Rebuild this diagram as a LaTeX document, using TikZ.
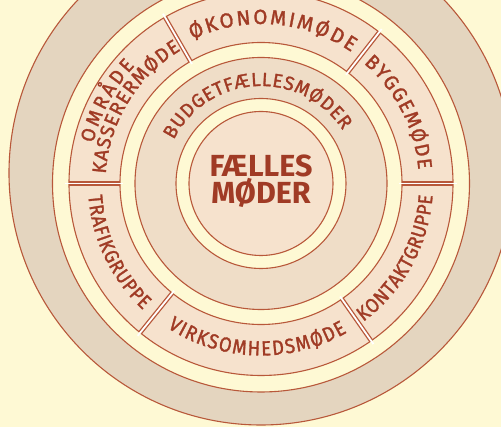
\documentclass[tikz,border=0pt]{standalone}
\usepackage{fontspec}
\setmainfont{Fira Sans}
\newfontfamily\ringfont[FakeBold=1.5]{Fira Sans}
\newfontfamily\ringfontc[FakeBold=1.5, FakeStretch=0.9]{Fira Sans}
\usetikzlibrary{decorations.text}
\definecolor{bg}{HTML}{FEF9D4}
\definecolor{ringgray}{HTML}{E4D5BF}
\definecolor{peach}{HTML}{F6E2CD}
\definecolor{budget}{HTML}{EFDDC7}
\definecolor{lin}{HTML}{B8583A}
\definecolor{txt}{HTML}{A03B25}
\begin{document}
\begin{tikzpicture}[x=1pt,y=1pt,
  ring/.style={draw=lin, line width=1.1pt},
  arctext/.style={decorate, decoration={text along path, text align={fit to path}, text color=txt, text={#1}}},
]
\useasboundingbox (-261,-243.5) rectangle (240,183.5);
\begin{scope}
\clip (-261,-243.5) rectangle (240,183.5);
\fill[bg] (-261,-243.5) rectangle (240,183.5);
% outer grey ring
\draw[ring, fill=ringgray] (0,10.5) circle[radius=252pt];
\draw[ring, fill=bg] (0,0) circle[radius=208.5pt];
% segment ring
\draw[ring, fill=peach] (0,0) circle[radius=192pt];
\draw[ring, fill=bg] (0,0) circle[radius=141pt];
% budget ring
\draw[ring, fill=budget] (0,0) circle[radius=126pt];
\draw[ring, fill=bg] (0,0) circle[radius=85pt];
% centre disc
\draw[ring, fill=peach] (0,0) circle[radius=72pt];
% dividers
\foreach \a in {0,52,120,180,231,305}{
  \draw[lin, line width=4.4pt] (\a:141pt) -- (\a:192pt);
  \draw[white, line width=1.8pt] (\a:138pt) -- (\a:196pt);
}
% centre text
\node[text=txt, align=center, font=\bfseries\fontsize{30.5}{25.5}\selectfont, inner sep=0pt] (faelles) at (0,2.5) {FÆLLES\\MØDER};
% budget ring text
\path[arctext={|\ringfont\fontsize{19}{19}\selectfont|BUDGETFÆLLESMØDER}] (153.5:97.5pt) arc[start angle=153.5, end angle=33, radius=97.5pt];
% segment texts (clockwise, tops outward)
\path[arctext={|\ringfont\fontsize{20.5}{20}\selectfont|ØKONOMIMØDE}] (115.5:159.5pt) arc[start angle=115.5, end angle=55.5, radius=159.5pt];
\path[arctext={|\ringfont\fontsize{20}{20}\selectfont|BYGGEMØDE}] (49.5:158pt) arc[start angle=49.5, end angle=5, radius=158pt];
\path[arctext={|\ringfont\fontsize{19.5}{19}\selectfont|OMRÅDE}] (166.5:172.5pt) arc[start angle=166.5, end angle=137, radius=172.5pt];
\path[arctext={|\ringfont\fontsize{19.5}{19}\selectfont|KASSERERMØDE}] (176.5:155.5pt) arc[start angle=176.5, end angle=121, radius=155.5pt];
% segment texts (counter-clockwise, tops inward)
\path[arctext={|\ringfontc\fontsize{20}{20}\selectfont|TRAFIKGRUPPE}] (184:173pt) arc[start angle=184, end angle=227, radius=173pt];
\path[arctext={|\ringfontc\fontsize{20.5}{20}\selectfont|VIRKSOMHEDSMØDE}] (237:172pt) arc[start angle=237, end angle=300, radius=172pt];
\path[arctext={|\ringfontc\fontsize{20}{20}\selectfont|KONTAKTGRUPPE}] (306.5:172pt) arc[start angle=306.5, end angle=356, radius=172pt];
\end{scope}
\end{tikzpicture}
\end{document}
